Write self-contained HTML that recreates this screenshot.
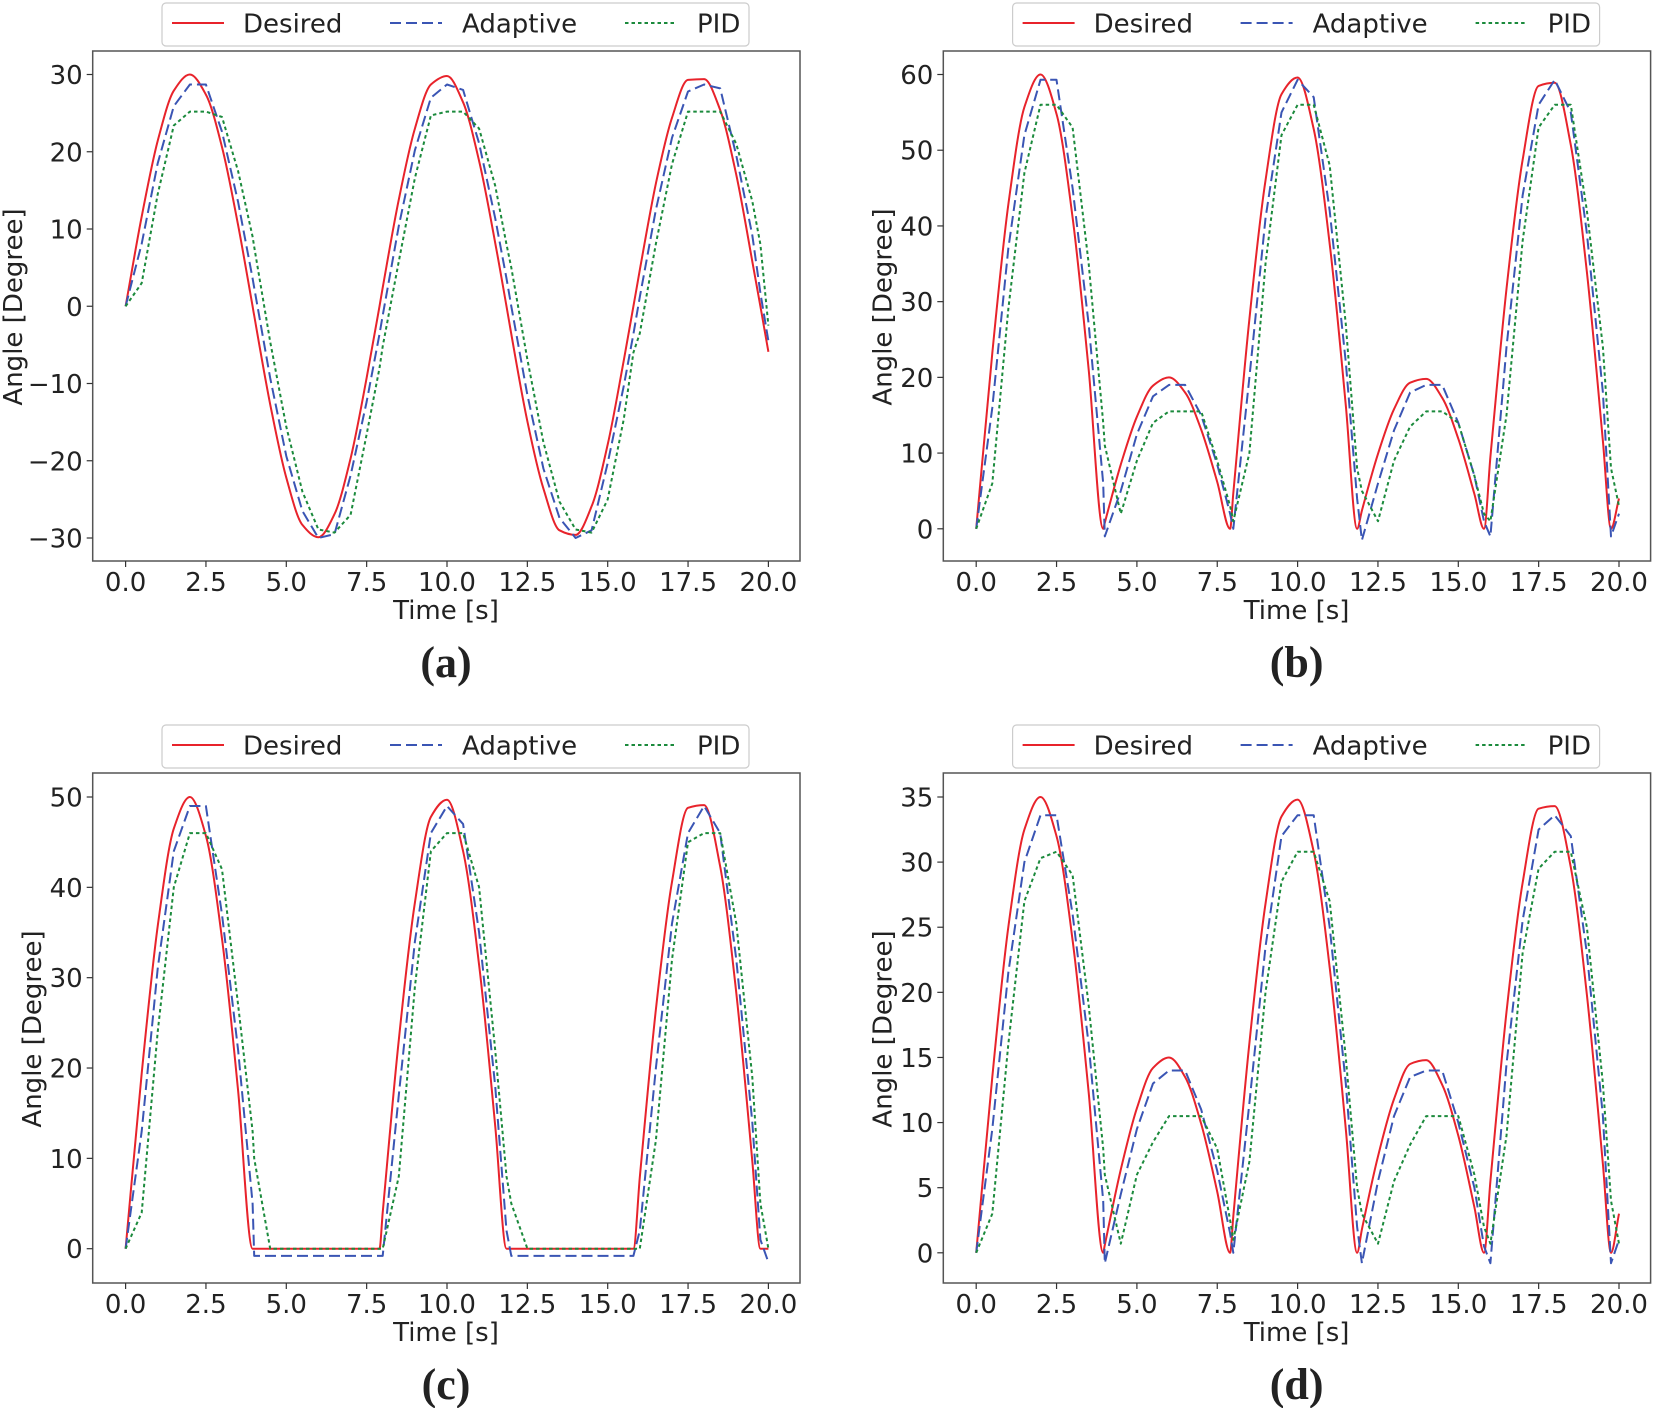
<!DOCTYPE html>
<html><head><meta charset="utf-8"><style>
html,body{margin:0;padding:0;background:#fff;}
svg{display:block;font-family:"DejaVu Sans","Liberation Sans",sans-serif;}
</style></head><body>
<svg id="fig" width="1655" height="1408" viewBox="0 0 1655 1408" xmlns="http://www.w3.org/2000/svg"></svg>
<script>
const times=[0,0.5,1,1.5,2,2.5,3,3.5,3.95,4,4.5,5,5.5,6,6.5,7,7.5,7.9,8,8.5,9,9.5,10,10.5,11,11.5,11.85,12,12.5,13,13.5,14,14.5,15,15.5,15.8,16,16.5,17,17.5,18,18.5,19,19.5,19.75,20];
const xTicks=[0,2.5,5,7.5,10,12.5,15,17.5,20];
const xTickLabels=["0.0","2.5","5.0","7.5","10.0","12.5","15.0","17.5","20.0"];
const seriesNames=["Desired","Adaptive","PID"];
// panel a
const aDesired=[0,11.6,21.4,27.9,30,27.4,20.6,10.5,0,-1.2,-12.7,-22.2,-28.3,-29.9,-26.9,-19.7,-9.3,0,2.4,13.8,23.0,28.7,29.8,26.4,18.8,8.2,0,-3.6,-14.9,-23.6,-29.0,-29.6,-25.9,-17.9,-7.0,0,4.7,15.9,24.4,29.3,29.4,25.4,17.0,5.8,0,-5.9];
const aAdaptive=[0,8.1,18.5,25.9,28.7,28.7,22.6,13.5,3.6,2.4,-9.3,-19.4,-26.5,-30,-29.5,-21.9,-12.4,-3.6,-1.2,10.4,20.2,27,28.7,28.0,21.1,11.4,3.6,0,-11.5,-21,-27.4,-30,-29,-20.3,-10.3,-3.6,1.2,12.5,21.8,27.8,28.7,28.2,19.5,9.2,1.7,-4.5];
const aPID=[0,3.0,14.5,23.4,25.2,25.2,24.5,17.5,9,7.7,-4.6,-15.6,-24,-28.9,-29.3,-27,-16.6,-8,-5.2,5.8,16.6,24.7,25.2,25.2,23,15.6,8,5,-6.9,-17.6,-25.3,-28.9,-29.3,-25,-14.6,-6,-3.5,8.1,18.4,25.2,25.2,25.2,21,13.6,8,-2.5];
const aTicks=[-30,-20,-10,0,10,20,30];
// panel b
const bDesired=[0,23.2,42.8,55.7,60,54.8,41.1,21,0,0.8,8.5,14.8,18.9,20,18,13.1,6.2,0,4.7,27.7,46,57.4,59.6,52.8,37.6,16.3,0,2.4,9.9,15.8,19.3,19.8,17.3,11.9,4.6,0,9.5,31.7,48.7,58.5,58.9,50.7,33.9,11.6,0,4.0];
const bAdaptive=[0,16,37,52,59.3,59.3,45,27,6,-1,5,12.5,17.5,19,19,15,8.5,2,0,20,41,55,59.3,57,42,22,4,-1.5,6,13,18,19,19,14,7,1,-1,24,44,56,59.3,55,39,18,-1,2];
const bPID=[0,6,29,47,56,56,53,35,14,11,2,9,14,15.5,15.5,15.5,9,3,1,10,35,52,56,56,48,27,8,5,1,9,13.5,15.5,15.5,14,7,2,1,15,38,53,56,56,42,24,8,3];
const bTicks=[0,10,20,30,40,50,60];
// panel c
const cDesired=[0,19.4,35.7,46.5,50,45.7,34.3,17.5,0,0,0,0,0,0,0,0,0,0,4.0,23.1,38.3,47.8,49.7,44,31.4,13.6,0,0,0,0,0,0,0,0,0,0,7.9,26.5,40.6,48.8,49.1,42.3,28.3,9.7,0,0];
const cAdaptive=[0,13,31,44,49,49,37,22,5,-0.8,-0.8,-0.8,-0.8,-0.8,-0.8,-0.8,-0.8,-0.8,-0.8,17,34,46,49,47,35,18,2,-0.8,-0.8,-0.8,-0.8,-0.8,-0.8,-0.8,-0.8,-0.8,2,20,36,46,49,46,32,14,1,-1.5];
const cPID=[0,4,24,40,46,46,42,27,13,10,0,0,0,0,0,0,0,0,0,8,29,44,46,46,40,22,8,5,0,0,0,0,0,0,0,0,0,12,32,45,46,46,36,19,5,0];
const cTicks=[0,10,20,30,40,50];
// panel d
const dDesired=[0,13.5,25,32.5,35,32,24,12.3,0,0.6,6.4,11.1,14.2,15,13.5,9.9,4.7,0,2.8,16.1,26.8,33.5,34.8,30.8,21.9,9.5,0,1.8,7.4,11.8,14.5,14.8,12.9,9,3.5,0,5.5,18.5,28.4,34.1,34.3,29.6,19.8,6.8,0,3.0];
const dAdaptive=[0,9.5,21.5,30,33.6,33.6,26,16,4,-0.8,4.5,9.5,13,14,14,11,6.3,1.5,0,11.5,23.5,32,33.6,33.6,25,13,2,-0.8,5.5,10.5,13.5,14,14,10,5,0.5,-0.8,14.5,25.5,32.5,33.6,32,23,10.5,-0.8,1];
const dPID=[0,3,16,27,30.3,30.8,29,19,8,6,0.7,6,8.5,10.5,10.5,10.5,8,2.5,1,7,20,28.5,30.8,30.8,27,15,5,3,0.7,5.5,8.3,10.5,10.5,10.5,6,2,0.7,9,23,29.5,30.8,30.8,25,13,4,0.7];
const dTicks=[0,5,10,15,20,25,30,35];

const NS="http://www.w3.org/2000/svg";
const svg=document.getElementById('fig');
function mk(tag,attrs,parent){const e=document.createElementNS(NS,tag);for(const k in attrs)e.setAttribute(k,attrs[k]);(parent||svg).appendChild(e);return e;}
const colors=["#e8232b","#3a55b4","#1b8a3c"];
const dashes=["none","11,5","3.5,3"];

function monotonePath(px,py){
  const n=px.length;const d=[],m=new Array(n);
  for(let i=0;i<n-1;i++)d.push((py[i+1]-py[i])/(px[i+1]-px[i]));
  m[0]=d[0];m[n-1]=d[n-2];
  for(let i=1;i<n-1;i++){
    if(d[i-1]*d[i]<=0)m[i]=0;
    else{const h0=px[i]-px[i-1],h1=px[i+1]-px[i];const w1=2*h1+h0,w2=h1+2*h0;m[i]=(w1+w2)/(w1/d[i-1]+w2/d[i]);}
  }
  let s='M'+px[0].toFixed(1)+','+py[0].toFixed(1);
  for(let i=0;i<n-1;i++){
    const h=(px[i+1]-px[i])/3;
    s+='C'+(px[i]+h).toFixed(1)+','+(py[i]+m[i]*h).toFixed(1)+' '+(px[i+1]-h).toFixed(1)+','+(py[i+1]-m[i+1]*h).toFixed(1)+' '+px[i+1].toFixed(1)+','+py[i+1].toFixed(1);
  }
  return s;
}

const panels=[
 {id:"a",ox:0,oy:0,yMin:-30,yMax:30,yTop:74.5,yBot:538,ticks:aTicks,series:[aDesired,aAdaptive,aPID],ylabX:14},
 {id:"b",ox:850.6,oy:0,yMin:0,yMax:60,yTop:74.5,yBot:528.8,ticks:bTicks,series:[bDesired,bAdaptive,bPID],ylabX:33},
 {id:"c",ox:0,oy:722,yMin:0,yMax:50,yTop:75,yBot:526.7,ticks:cTicks,series:[cDesired,cAdaptive,cPID],ylabX:33},
 {id:"d",ox:850.6,oy:722,yMin:0,yMax:35,yTop:75,yBot:530.8,ticks:dTicks,series:[dDesired,dAdaptive,dPID],ylabX:33}
];

panels.forEach(p=>{
  const g=mk('g',{transform:`translate(${p.ox},${p.oy})`});
  
  
  const L=92.7,R=800,T=51,B=561;
  const x0=125.6,x20=768.4;
  const X=t=>x0+(t/20)*(x20-x0);
  const Y=v=>p.yBot+(v-p.yMin)/(p.yMax-p.yMin)*(p.yTop-p.yBot);
  const clip=mk('clipPath',{id:'clip'+p.id},g);
  mk('rect',{x:L,y:T,width:R-L,height:B-T},clip);
  const sg=mk('g',{'clip-path':`url(#clip${p.id})`},g);
  p.series.forEach((vals,si)=>{
    let d='';
    if(si===0){
      d=monotonePath(times.map(X),vals.map(Y));
    }else{
      vals.forEach((v,i)=>{d+=(i?'L':'M')+X(times[i]).toFixed(1)+','+Y(v).toFixed(1);});
    }
    const path=mk('path',{d:d,fill:'none',stroke:colors[si],'stroke-width':2,'stroke-dasharray':dashes[si],'stroke-linejoin':'round'},sg);
    
    
  });
  const fr=mk('rect',{x:L,y:T,width:R-L,height:B-T,fill:'none',stroke:'#555','stroke-width':1.5},g);
  
  
  xTicks.forEach((t,i)=>{
    mk('line',{x1:X(t),x2:X(t),y1:B,y2:B+6,stroke:'#333','stroke-width':1.2},g);
    const tx=mk('text',{x:X(t),y:B+30,'text-anchor':'middle','font-size':26,fill:'#222'},g);
    tx.textContent=xTickLabels[i];
    
    
  });
  p.ticks.forEach(v=>{
    mk('line',{x1:L-6,x2:L,y1:Y(v),y2:Y(v),stroke:'#333','stroke-width':1.2},g);
    const tx=mk('text',{x:L-10,y:Y(v)+9.5,'text-anchor':'end','font-size':26,fill:'#222'},g);
    tx.textContent=(v<0?'\u2212'+(-v):String(v));
    
    
  });
  const xl=mk('text',{x:446,y:619,'text-anchor':'middle','font-size':26,fill:'#222'},g);
  xl.textContent='Time [s]';
  
  
  const yl=mk('text',{x:p.ylabX,y:307,'text-anchor':'middle','font-size':26,fill:'#222',transform:`rotate(-90 ${p.ylabX} 307)`,'dominant-baseline':'central'},g);
  yl.textContent='Angle [Degree]';
  
  
  const cap=mk('text',{x:446,y:677,'text-anchor':'middle','font-size':44,'font-weight':'bold',fill:'#222','font-family':'"Liberation Serif",serif'},g);
  cap.textContent='('+p.id+')';
  
  
  const lg=mk('g',{},g);
  
  
  mk('rect',{x:162,y:3,width:587,height:43,rx:4,fill:'#fff',stroke:'#ccc','stroke-width':1.2},lg);
  const lx=[172,390,625], tx=[243,462,697];
  seriesNames.forEach((n,i)=>{
    const e=mk('g',{},lg);
    
    
    mk('line',{x1:lx[i],x2:lx[i]+52,y1:23,y2:23,stroke:colors[i],'stroke-width':2,'stroke-dasharray':dashes[i]},e);
    const t=mk('text',{x:tx[i],y:32.5,'font-size':26,fill:'#222'},e);
    t.textContent=n;
  });
});
</script>
</body></html>
